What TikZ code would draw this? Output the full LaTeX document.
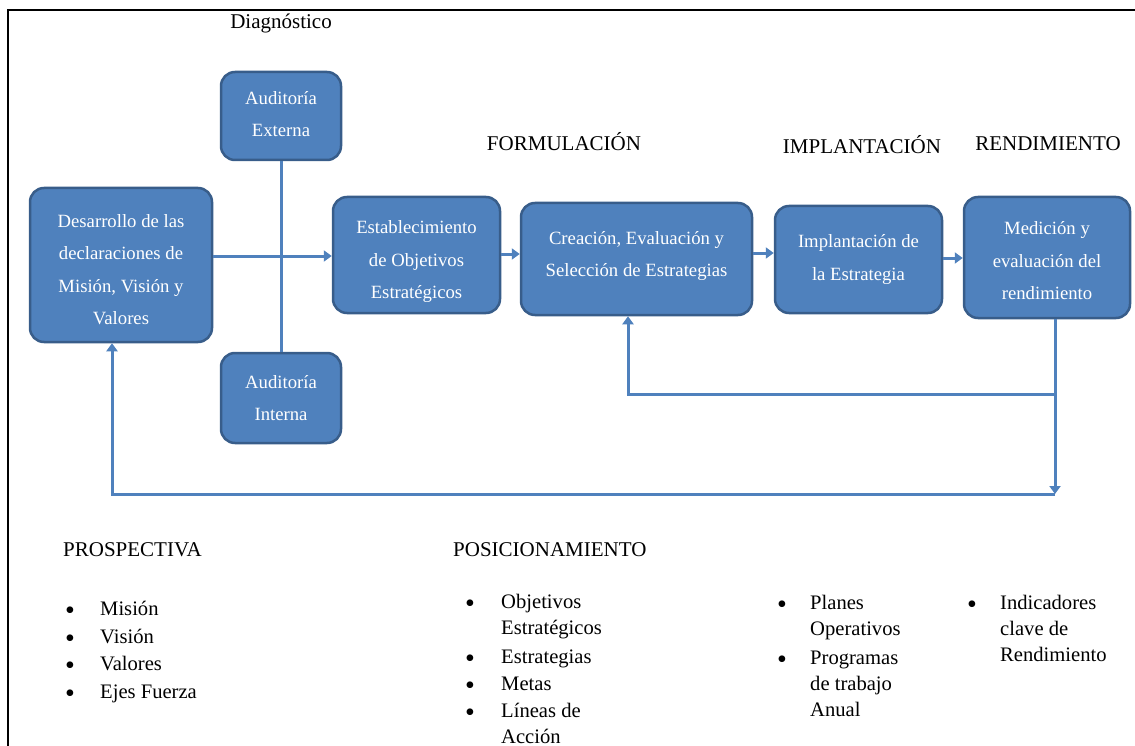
\documentclass[tikz,border=0pt]{standalone}
\usepackage{fontspec}
\setmainfont{Liberation Serif}
\newfontfamily\tnr{Liberation Serif}
\usetikzlibrary{arrows.meta}
\definecolor{boxfill}{RGB}{79,129,189}
\definecolor{boxline}{RGB}{56,93,138}
\definecolor{conncol}{RGB}{79,129,189}
\tikzset{
  blockbox/.style={rounded corners=14pt, fill=boxfill, draw=boxline, line width=2.5pt,
    inner sep=0pt},
  boxtext/.style={text=white, align=center, inner sep=0pt,
    font=\tnr\fontsize{18.7}{32.5}\selectfont},
  conn/.style={draw=conncol, line width=3pt},
  arr/.style={conn, -{Triangle[width=11pt,length=8pt]}},
  lbl/.style={inner sep=0pt, font=\tnr\fontsize{21}{26}\selectfont},
  itemtxt/.style={inner sep=0pt, anchor=mid west, font=\tnr\fontsize{20.6}{26}\selectfont},
  bul/.style={inner sep=0pt, font=\tnr\fontsize{28}{26}\selectfont},
}
\begin{document}
\begin{tikzpicture}[x=1pt,y=-1pt]
\useasboundingbox (0,0) rectangle (1135,746);
\draw[line width=1.6pt] (8,746) -- (8,10) -- (1135,10);

% boxes
\node[blockbox, minimum width=182pt, minimum height=154pt] (des) at (121,265) {};
\node[blockbox, minimum width=120pt, minimum height=88pt] (ext) at (281,116) {};
\node[blockbox, minimum width=120pt, minimum height=90pt] (int) at (281,398) {};
\node[blockbox, minimum width=167pt, minimum height=116pt] (est) at (416.5,255) {};
\node[blockbox, minimum width=231pt, minimum height=112pt] (cre) at (636.5,259) {};
\node[blockbox, minimum width=167pt, minimum height=107pt] (imp) at (858.5,259.5) {};
\node[blockbox, minimum width=166pt, minimum height=121pt] (med) at (1047,257.5) {};

\node[boxtext] (des-t) at ([yshift=-4.5pt]des.center) {Desarrollo de las\\declaraciones de\\Misión, Visión y\\Valores};
\node[boxtext] (ext-t) at ([yshift=2pt]ext.center) {Auditoría\\Externa};
\node[boxtext] (int-t) at (int.center) {Auditoría\\Interna};
\node[boxtext] (est-t) at ([yshift=-7pt]est.center) {Establecimiento\\de Objetivos\\Estratégicos};
\node[boxtext] (cre-t) at ([yshift=3pt]cre.center) {Creación, Evaluación y\\Selección de Estrategias};
\node[boxtext] (imp-t) at (imp.center) {Implantación de\\la Estrategia};
\node[boxtext] (med-t) at ([yshift=-3.5pt]med.center) {Medición y\\evaluación del\\rendimiento};

% labels
\node[lbl, anchor=base] (ldia) at (281,29) {Diagnóstico};
\node[lbl, anchor=base] (lfor) at (564,151) {FORMULACIÓN};
\node[lbl, anchor=base] (limp) at (862,154) {IMPLANTACIÓN};
\node[lbl, anchor=base] (lren) at (1048,151) {RENDIMIENTO};

% connectors
\draw[conn] (ext.south) -- (int.north);
\draw[arr] (des.east |- 0,256) -- (est.west |- 0,256);
\draw[arr] (est.east |- 0,254) -- (cre.west |- 0,254);
\draw[arr] (cre.east |- 0,253) -- (imp.west |- 0,253);
\draw[arr] (imp.east |- 0,258) -- (med.west |- 0,258);

\coordinate (mtop) at ([xshift=8pt]med.south);
\coordinate (mbranch) at (1055,394);
\coordinate (mbot) at (1055,494);
\coordinate (cin) at ([xshift=-8.5pt]cre.south);
\coordinate (dcorner) at (112,494);
\coordinate (din) at ([xshift=-9pt]des.south);
\draw[arr] (mtop) -- (mbot);
\draw[arr] (mbranch) -| (cin);
\draw[arr] (mbot) -- (dcorner) -- (din);

% bottom text
\node[lbl, anchor=base west] (hpro) at (63,556) {PROSPECTIVA};
\node[lbl, anchor=base west] (hpos) at (453,556) {POSICIONAMIENTO};

\foreach \n/\y/\t in {a/613/Misión, b/641/Visión, c/668/Valores, d/696/Ejes Fuerza}{
  \node[bul] (b\n) at (70,\y) {•};
  \node[itemtxt] (t\n) at (100,\y) {\t};
}
\foreach \n/\y in {e/606, f/661, g/688, h/715}{
  \node[bul] (b\n) at (470,\y) {•};
}
\node[itemtxt] (te1) at (501,606) {Objetivos};
\node[itemtxt] (te2) at (501,632) {Estratégicos};
\node[itemtxt] (tf) at (501,661) {Estrategias};
\node[itemtxt] (tg) at (501,688) {Metas};
\node[itemtxt] (th1) at (501,715) {Líneas de};
\node[itemtxt] (th2) at (501,741) {Acción};

\node[bul] (bi) at (782,607) {•};
\node[bul] (bj) at (782,662) {•};
\node[itemtxt] (ti1) at (810,607) {Planes};
\node[itemtxt] (ti2) at (810,633) {Operativos};
\node[itemtxt] (tj1) at (810,662) {Programas};
\node[itemtxt] (tj2) at (810,688) {de trabajo};
\node[itemtxt] (tj3) at (810,714) {Anual};

\node[bul] (bk) at (972,607) {•};
\node[itemtxt] (tk1) at (1000,607) {Indicadores};
\node[itemtxt] (tk2) at (1000,633) {clave de};
\node[itemtxt] (tk3) at (1000,659) {Rendimiento};
\end{tikzpicture}
\end{document}
